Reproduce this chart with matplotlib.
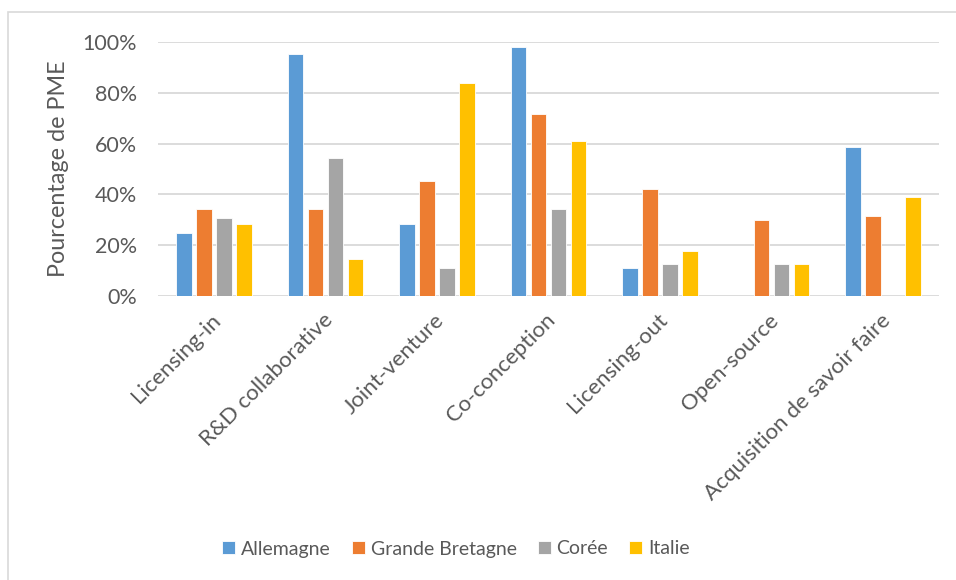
import matplotlib.pyplot as plt
from matplotlib.patches import Rectangle
from matplotlib.transforms import ScaledTranslation
import numpy as np

plt.rcParams['font.family'] = ['Lato', 'DejaVu Sans']

categories = ['Licensing-in', 'R&D collaborative', 'Joint-venture', 'Co-conception',
              'Licensing-out', 'Open-source', 'Acquisition de savoir faire']
allemagne = [24.7, 95.1, 28.5, 98.1, 11.0, 0, 58.7]
grande_bretagne = [34.4, 34.4, 45.2, 71.6, 42.1, 30.0, 31.5]
coree = [30.8, 54.3, 11.0, 34.4, 12.6, 12.6, 0]
italie = [28.5, 14.7, 83.7, 61.0, 17.9, 12.6, 39.0]

series = [('Allemagne', allemagne, '#5b9bd5'),
          ('Grande Bretagne', grande_bretagne, '#ed7d31'),
          ('Corée', coree, '#a5a5a5'),
          ('Italie', italie, '#ffc000')]

fig = plt.figure(figsize=(9.56, 5.8), dpi=100)
ax = fig.add_axes([0.1653, 0.4897, 0.8169, 0.4379])

# chart border (only top and left visible in the original)
fig.patches.append(Rectangle((8 / 956, -0.1), 1.2, 1 - 12 / 580 + 0.1,
                             transform=fig.transFigure, fill=False,
                             edgecolor='#d9d9d9', lw=1.2))

x = np.arange(len(categories))
pitch = 0.179
width = 0.139
for i, (name, vals, col) in enumerate(series):
    ax.bar(x + (i - 1.5) * pitch, vals, width, color=col, label=name,
           edgecolor='white', linewidth=0.6, zorder=3)

ax.set_xlim(-0.5, len(categories) - 0.5)
ax.set_ylim(0, 100)
ax.set_yticks(np.arange(0, 101, 20))
ax.set_yticklabels([f'{v}%' for v in range(0, 101, 20)])
ax.yaxis.grid(True, color='#d9d9d9', lw=1.3, zorder=0)
for s in ax.spines.values():
    s.set_visible(False)
ax.tick_params(length=0, colors='#595959', labelsize=15.5, pad=15)
ax.tick_params(axis='x', pad=10)
ax.set_xticks(x)
ax.set_xticklabels(categories, rotation=45, ha='right', va='top',
                   rotation_mode='anchor', fontsize=16, color='#595959')
shift = ScaledTranslation(-3 / 100, 0, fig.dpi_scale_trans)
for lbl in ax.get_xticklabels():
    lbl.set_transform(lbl.get_transform() + shift)
ax.set_ylabel('Pourcentage de PME', fontsize=16.8, color='#595959', labelpad=10)

fig.legend(loc='center', bbox_to_anchor=(456 / 956, 1 - 549 / 580), ncol=4,
           frameon=False, fontsize=14, handlelength=0.65, handleheight=0.65,
           handletextpad=0.3, columnspacing=1.1, labelcolor='#595959')

fig.savefig('out.png', dpi=100)
